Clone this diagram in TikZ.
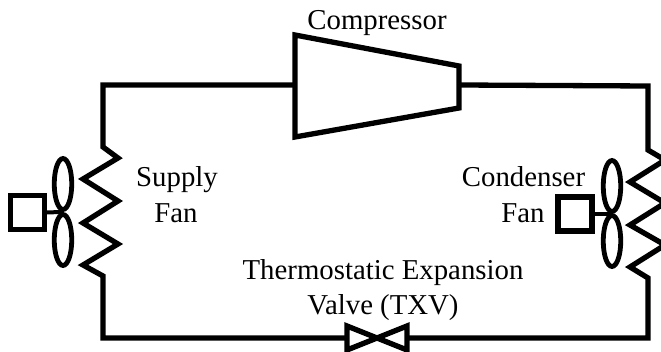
\documentclass[tikz,border=0pt]{standalone}
\usepackage{fontspec}
\setmainfont{Liberation Serif}
\usetikzlibrary{shapes.geometric}
\tikzset{
  pipe/.style={line width=5.3pt,line join=miter,line cap=butt},
  lbl/.style={inner sep=0pt,outer sep=0pt,anchor=base,font=\fontsize{28.8}{32}\selectfont},
  blade/.style={draw,ellipse,line width=4.8pt,minimum width=17.5pt,minimum height=51pt,inner sep=0pt,outer sep=0pt},
  motor/.style={draw,rectangle,line width=5.2pt,minimum width=34pt,minimum height=34pt,inner sep=0pt,outer sep=0pt},
  shaft/.style={line width=4pt},
}
\begin{document}
\begin{tikzpicture}[x=1pt,y=-1pt]
\clip (0,0) rectangle (661,352);
\fill[white] (0,0) rectangle (661,352);
% compressor
\coordinate (c1) at (295,35);
\coordinate (c2) at (459,66);
\coordinate (c3) at (459,108);
\coordinate (c4) at (295,137);
\coordinate (cin) at (295,85);
\coordinate (cout) at (459,85);
\draw[pipe] (c1) -- (c2) -- (c3) -- (c4) -- cycle;
% valve
\coordinate (v1) at (347,326);
\coordinate (v2) at (407,350);
\coordinate (v3) at (407,326);
\coordinate (v4) at (347,350);
\coordinate (vin) at (347,338);
\coordinate (vout) at (407,338);
\draw[pipe] (v1) -- (v2) -- (v3) -- (v4) -- cycle;
% loop, left side with coil
\draw[pipe] (cin) -- (103,85) -- (103,147) -- (118,158) -- (83,179) -- (118,201) -- (83,223) -- (118,244) -- (83,265) -- (103,276) -- (103,338) -- (vin);
% loop, right side with coil
\draw[pipe] (cout) -- (648,86) -- (648,150) -- (665,160) -- (630,182) -- (665,203) -- (630,225) -- (665,245) -- (630,267) -- (648,278) -- (648,338) -- (vout);
% supply fan
\node[blade] (sb1) at (63,184) {};
\node[blade] (sb2) at (63,240) {};
\node[motor] (sm) at (27.5,212.5) {};
\coordinate (sh) at (63,212);
\draw[shaft] (sm.east) -- (sh);
% condenser fan
\node[blade] (cb1) at (612,186) {};
\node[blade] (cb2) at (612,241) {};
\node[motor] (cm) at (575,214) {};
\coordinate (ch) at (612,214);
\draw[shaft] (cm.east) -- (ch);
% labels
\node[lbl] (tcomp) at (377,30) {Compressor};
\node[lbl] (tsup) at (177,187) {Supply};
\node[lbl] (tsf) at (176,223) {Fan};
\node[lbl] (tcond) at (523.5,187) {Condenser};
\node[lbl] (tcf) at (523,223) {Fan};
\node[lbl] (tte) at (383,280) {Thermostatic Expansion};
\node[lbl] (tv) at (383,315) {Valve (TXV)};
\end{tikzpicture}
\end{document}
